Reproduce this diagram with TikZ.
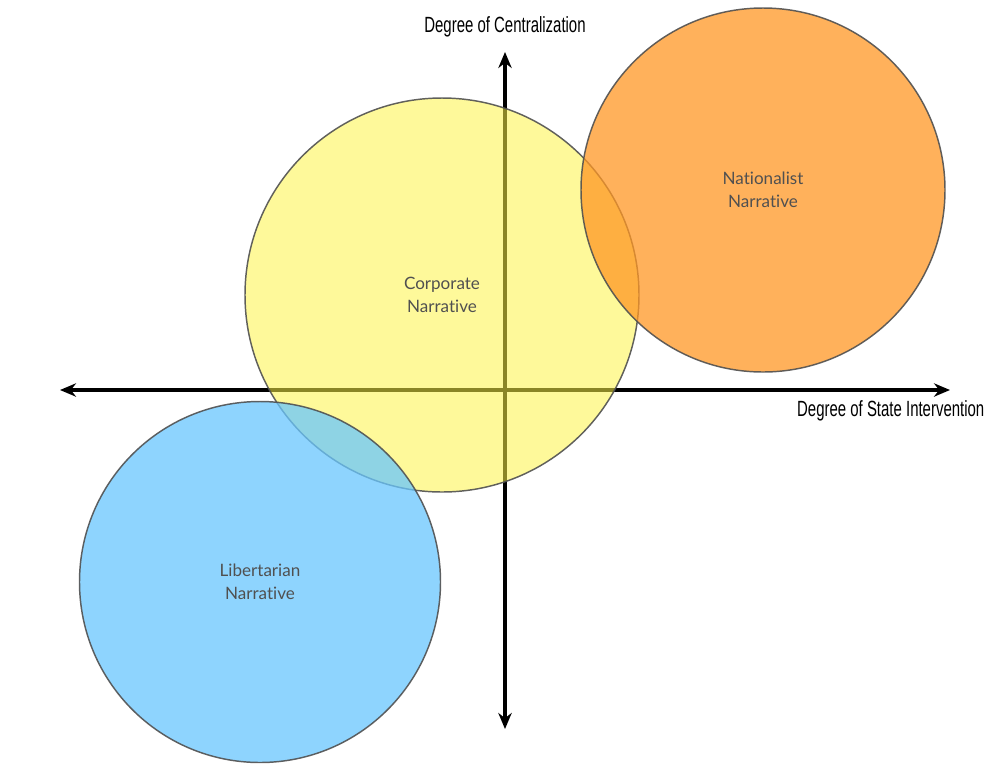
\documentclass[tikz,border=0pt]{standalone}
\usepackage{fontspec}
\usetikzlibrary{arrows.meta}
\newfontfamily\axisfont[FakeStretch=0.68]{Liberation Sans}
\newfontfamily\labfont[Ligatures=NoCommon]{Lato}
\definecolor{cyellow}{RGB}{253,244,71}
\definecolor{cblue}{RGB}{104,198,254}
\definecolor{corange}{RGB}{255,151,36}
\definecolor{cedge}{RGB}{80,80,80}
\definecolor{ctext}{RGB}{80,80,80}
\tikzset{
  axis/.style={line width=2.4pt, {Stealth[length=12pt,width=10pt]}-{Stealth[length=12pt,width=10pt]}},
  blob/.style={circle, draw=cedge, line width=1.1pt, fill opacity=0.75, draw opacity=0.9, text opacity=1},
  axlab/.style={font=\axisfont\fontsize{16.5}{19}\selectfont, text=black},
  circlab/.style={font=\labfont\fontsize{12.8}{17}\selectfont, text=ctext, align=center}
}
\begin{document}
\begin{tikzpicture}[x=0.75pt,y=-0.75pt]
\useasboundingbox (0,0) rectangle (1000,769);
% axes
\coordinate (L) at (60,390);
\coordinate (R) at (950,390);
\coordinate (T) at (505,52);
\coordinate (B) at (505,729);
\draw[axis] (L) -- (R);
\draw[axis] (B) -- (T);
\node[axlab] (ylab) at (505,27) {Degree of Centralization};
\node[axlab, anchor=east] (xlab) at (989,411) {Degree of State Intervention};
% circles
\node[blob, fill=cyellow, fill opacity=0.55, minimum size=394pt*0.75] (corp) at (442,295) {};
\node[blob, fill=cblue, minimum size=361pt*0.75] (lib) at (260,582) {};
\node[blob, fill=corange, minimum size=364pt*0.75] (nat) at (763,190) {};
\node[circlab] (corpT) at (corp.center) {Corporate\\Narrative};
\node[circlab] (libT) at (lib.center) {Libertarian\\Narrative};
\node[circlab] (natT) at (nat.center) {Nationalist\\Narrative};
\end{tikzpicture}
\end{document}
